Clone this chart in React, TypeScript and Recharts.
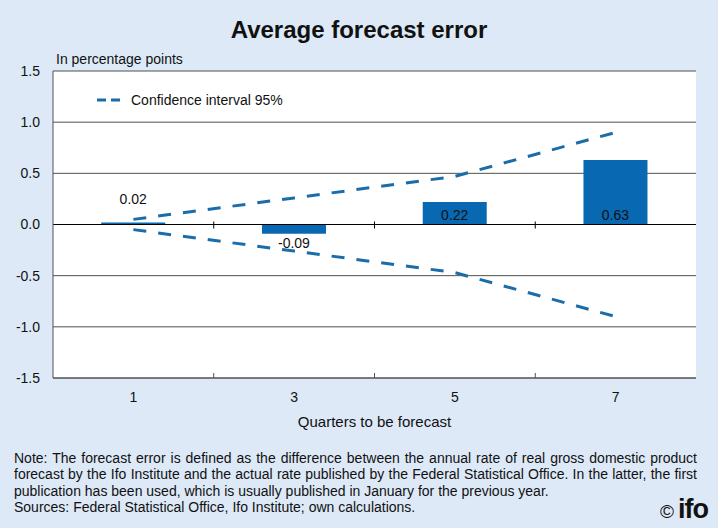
import { ComposedChart, Bar, Line, XAxis, YAxis, CartesianGrid, ReferenceLine, LabelList } from 'recharts'

// quarters to be forecast and the average error (percentage points)
const quarters = ['1', '3', '5', '7']
const avgError = [0.02, -0.09, 0.22, 0.63]
// 95% confidence interval bounds
const upperBound = [0.05, 0.26, 0.47, 0.9]
const lowerBound = [-0.05, -0.26, -0.47, -0.9]
const yTicks = [-1.5, -1, -0.5, 0, 0.5, 1, 1.5]

const W = 718
const H = 528
const X_AXIS_H = 30
const MARGIN = { top: 71, right: 22, bottom: 120, left: 0 }
const Y_AXIS_W = 53
const PLOT_W = W - MARGIN.left - MARGIN.right - Y_AXIS_W
const PLOT_H = H - MARGIN.top - MARGIN.bottom - X_AXIS_H
const BAND = PLOT_W / quarters.length

const BAR_COLOR = '#0868b2'
const LINE_COLOR = '#1b6daa'
const GRID_COLOR = '#505050'
const TEXT_COLOR = '#111'
const FONT = '"Liberation Sans", Arial, sans-serif'

const chartData = quarters.map((q, i) => ({
  quarter: q,
  error: avgError[i],
  upper: upperBound[i],
  lower: lowerBound[i],
}))

// x tick: category label plus the small separator ticks between categories
function QuarterTick(props: any) {
  const { x, y, payload, index } = props
  const bx = x - BAND / 2
  const zeroY = y - PLOT_H / 2
  return (
    <g>
      {index > 0 && <line x1={bx} x2={bx} y1={y - 5} y2={y} stroke={GRID_COLOR} strokeWidth={1} />}
      {index > 0 && <line x1={bx} x2={bx} y1={zeroY - 3} y2={zeroY + 4} stroke="#000" strokeWidth={1} />}
      <text x={x} y={y + 24} textAnchor="middle" fontSize={14} fill={TEXT_COLOR} fontFamily={FONT}>
        {payload.value}
      </text>
    </g>
  )
}

// value labels: inside the bar for the larger ones, outside for the small ones
function ValueLabel(props: any) {
  const { x, y, width, height, value } = props
  const cx = x + width / 2
  const top = Math.min(y, y + height)
  const bottom = Math.max(y, y + height)
  let ty
  if (value < 0) ty = bottom + 14
  else if (value < 0.1) ty = top - 18
  else ty = bottom - 5
  return (
    <text x={cx} y={ty} textAnchor="middle" fontSize={14} fill={TEXT_COLOR} fontFamily={FONT}>
      {value.toFixed(2)}
    </text>
  )
}

export default function App() {
  return (
    <div
      style={{
        position: 'absolute',
        left: 0,
        top: 0,
        width: W,
        height: H,
        background: '#dde9f7',
        fontFamily: FONT,
        color: TEXT_COLOR,
        overflow: 'hidden',
      }}
    >
      <div style={{ position: 'absolute', left: 0, width: W, top: 16, textAlign: 'center', fontSize: 24, fontWeight: 700 }}>
        Average forecast error
      </div>
      <div style={{ position: 'absolute', left: 56, top: 51, fontSize: 14 }}>In percentage points</div>

      <ComposedChart width={W} height={H} data={chartData} margin={MARGIN} barCategoryGap="30%">
        <CartesianGrid horizontal vertical={false} stroke={GRID_COLOR} fill="#fff" />
        <XAxis
          dataKey="quarter"
          height={X_AXIS_H}
          tickLine={false}
          tickSize={0}
          tickMargin={0}
          axisLine={{ stroke: GRID_COLOR }}
          tick={<QuarterTick />}
          interval={0}
        />
        <YAxis
          domain={[-1.5, 1.5]}
          ticks={yTicks}
          width={Y_AXIS_W}
          tickLine={false}
          tickSize={6}
          tickMargin={7}
          axisLine={{ stroke: GRID_COLOR }}
          tickFormatter={(v: number) => v.toFixed(1)}
          tick={{ fontSize: 14, fill: TEXT_COLOR, fontFamily: FONT }}
          allowDataOverflow
        />
        <YAxis
          yAxisId="right"
          orientation="right"
          domain={[-1.5, 1.5]}
          width={0}
          tick={false}
          tickLine={false}
          axisLine={{ stroke: GRID_COLOR }}
        />
        <ReferenceLine y={0} stroke="#000" strokeWidth={1.2} />
        <Bar dataKey="error" fill={BAR_COLOR} isAnimationActive={false}>
          <LabelList dataKey="error" content={<ValueLabel />} />
        </Bar>
        <Line
          type="linear"
          dataKey="upper"
          stroke={LINE_COLOR}
          strokeWidth={3}
          strokeDasharray="13 12"
          dot={false}
          activeDot={false}
          isAnimationActive={false}
        />
        <Line
          type="linear"
          dataKey="lower"
          stroke={LINE_COLOR}
          strokeWidth={3}
          strokeDasharray="13 12"
          dot={false}
          activeDot={false}
          isAnimationActive={false}
        />
      </ComposedChart>

      {/* legend */}
      <div style={{ position: 'absolute', left: 96, top: 92, display: 'flex', alignItems: 'center', fontSize: 14 }}>
        <svg width={26} height={6} style={{ marginRight: 9 }}>
          <line x1={1} x2={25} y1={3} y2={3} stroke={LINE_COLOR} strokeWidth={3} strokeDasharray="9 5" />
        </svg>
        <span>Confidence interval 95%</span>
      </div>

      <div style={{ position: 'absolute', left: 53, width: PLOT_W, top: 413, textAlign: 'center', fontSize: 15 }}>
        Quarters to be forecast
      </div>

      <div style={{ position: 'absolute', left: 14, width: 683, top: 450, fontSize: 14, lineHeight: '16.3px' }}>
        <div style={{ textAlign: 'justify' }}>
          Note: The forecast error is defined as the difference between the annual rate of real gross domestic product
          forecast by the Ifo Institute and the actual rate published by the Federal Statistical Office. In the latter, the
          first publication has been used, which is usually published in January for the previous year.
        </div>
        <div>Sources: Federal Statistical Office, Ifo Institute; own calculations.</div>
      </div>

      <div style={{ position: 'absolute', right: 10, top: 494, display: 'flex', alignItems: 'baseline' }}>
        <span style={{ fontSize: 19, marginRight: 4 }}>©</span>
        <span style={{ fontSize: 27, fontWeight: 900, letterSpacing: -1 }}>ifo</span>
      </div>
    </div>
  )
}
